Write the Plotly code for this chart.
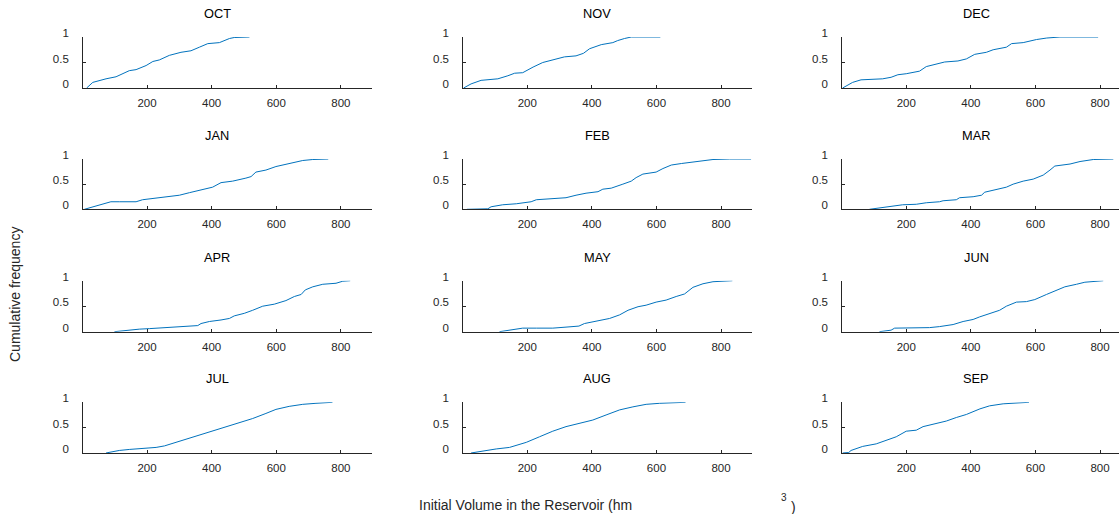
import plotly.graph_objects as go

W, H = 1119, 514

months = ["OCT", "NOV", "DEC", "JAN", "FEB", "MAR", "APR", "MAY", "JUN", "JUL", "AUG", "SEP"]

oct_x = [13, 32, 73, 104, 145, 166, 197, 218, 238, 269, 305, 336, 362, 388, 424, 455, 470, 517]
oct_y = [0, 0.11, 0.18, 0.22, 0.34, 0.36, 0.44, 0.52, 0.55, 0.64, 0.70, 0.73, 0.80, 0.87, 0.89, 0.97, 0.99, 1.0]

nov_x = [3, 26, 57, 88, 109, 140, 161, 186, 202, 218, 248, 279, 315, 351, 374, 393, 429, 465, 480, 501, 522, 612]
nov_y = [0, 0.08, 0.15, 0.16, 0.18, 0.24, 0.29, 0.30, 0.36, 0.41, 0.50, 0.55, 0.61, 0.63, 0.68, 0.77, 0.85, 0.89, 0.93, 0.97, 1.0, 1.0]

dec_x = [3, 19, 34, 60, 96, 127, 153, 174, 200, 220, 241, 262, 293, 319, 360, 386, 412, 448, 469, 510, 526, 562, 603, 635, 676, 794]
dec_y = [0, 0.06, 0.11, 0.16, 0.17, 0.18, 0.21, 0.26, 0.28, 0.31, 0.33, 0.42, 0.47, 0.51, 0.53, 0.57, 0.66, 0.70, 0.75, 0.80, 0.87, 0.89, 0.95, 0.98, 1.0, 1.0]

jan_x = [6, 21, 52, 73, 88, 114, 166, 186, 228, 259, 300, 331, 362, 403, 429, 465, 506, 522, 537, 568, 599, 630, 651, 682, 713, 761]
jan_y = [0, 0.03, 0.08, 0.12, 0.15, 0.15, 0.15, 0.19, 0.22, 0.25, 0.28, 0.33, 0.38, 0.44, 0.53, 0.56, 0.62, 0.65, 0.74, 0.78, 0.85, 0.89, 0.93, 0.97, 0.99, 1.0]

feb_x = [13, 78, 88, 124, 166, 186, 212, 228, 279, 320, 351, 382, 419, 434, 460, 475, 496, 522, 537, 558, 599, 620, 646, 677, 708, 744, 775, 826, 893]
feb_y = [0, 0.01, 0.05, 0.09, 0.11, 0.13, 0.15, 0.19, 0.21, 0.23, 0.28, 0.32, 0.35, 0.40, 0.42, 0.46, 0.50, 0.56, 0.63, 0.70, 0.74, 0.81, 0.88, 0.91, 0.94, 0.96, 0.99, 1.0, 1.0]

mar_x = [86, 127, 158, 189, 231, 262, 303, 314, 355, 365, 407, 433, 443, 479, 510, 531, 562, 593, 624, 645, 660, 707, 738, 779, 810, 841]
mar_y = [0, 0.04, 0.06, 0.09, 0.10, 0.13, 0.15, 0.17, 0.19, 0.23, 0.25, 0.28, 0.34, 0.39, 0.44, 0.50, 0.56, 0.60, 0.68, 0.78, 0.86, 0.90, 0.95, 0.99, 1.0, 1.0]

apr_x = [99, 135, 176, 207, 259, 300, 357, 367, 393, 429, 455, 470, 501, 527, 558, 594, 630, 656, 677, 690, 713, 744, 785, 806, 829]
apr_y = [0, 0.03, 0.05, 0.06, 0.08, 0.10, 0.12, 0.16, 0.20, 0.23, 0.26, 0.31, 0.36, 0.42, 0.50, 0.54, 0.61, 0.69, 0.73, 0.82, 0.88, 0.93, 0.95, 0.99, 1.0]

may_x = [114, 150, 186, 228, 279, 320, 360, 377, 413, 455, 486, 512, 543, 568, 599, 630, 661, 687, 713, 744, 775, 806, 835]
may_y = [0, 0.04, 0.07, 0.07, 0.07, 0.09, 0.11, 0.16, 0.20, 0.26, 0.33, 0.42, 0.49, 0.52, 0.58, 0.62, 0.69, 0.74, 0.87, 0.94, 0.98, 0.99, 1.0]

jun_x = [117, 153, 164, 210, 272, 303, 345, 376, 407, 427, 458, 489, 510, 541, 572, 598, 634, 665, 691, 727, 753, 810]
jun_y = [0, 0.03, 0.07, 0.07, 0.08, 0.10, 0.14, 0.20, 0.24, 0.29, 0.35, 0.42, 0.50, 0.58, 0.59, 0.63, 0.73, 0.81, 0.88, 0.93, 0.97, 1.0]

jul_x = [73, 114, 145, 197, 228, 254, 290, 331, 362, 403, 444, 496, 527, 568, 599, 640, 682, 723, 774]
jul_y = [0, 0.05, 0.07, 0.09, 0.11, 0.14, 0.21, 0.29, 0.36, 0.44, 0.52, 0.61, 0.68, 0.78, 0.86, 0.92, 0.96, 0.98, 1.0]

aug_x = [26, 62, 104, 145, 197, 238, 279, 320, 362, 403, 444, 486, 527, 568, 610, 651, 690]
aug_y = [0, 0.04, 0.08, 0.11, 0.21, 0.32, 0.43, 0.52, 0.59, 0.65, 0.75, 0.85, 0.91, 0.96, 0.98, 0.99, 1.0]

sep_x = [3, 22, 29, 65, 107, 138, 169, 200, 231, 252, 293, 324, 355, 386, 428, 458, 500, 541, 580]
sep_y = [0, 0.01, 0.05, 0.13, 0.18, 0.25, 0.32, 0.43, 0.45, 0.52, 0.58, 0.63, 0.70, 0.76, 0.87, 0.93, 0.97, 0.99, 1.0]

series_x = [oct_x, nov_x, dec_x, jan_x, feb_x, mar_x, apr_x, may_x, jun_x, jul_x, aug_x, sep_x]
series_y = [oct_y, nov_y, dec_y, jan_y, feb_y, mar_y, apr_y, may_y, jun_y, jul_y, aug_y, sep_y]

x_ticks = [200, 400, 600, 800]
y_ticks = [0, 0.5, 1]
y_ticktext = ["0", "0.5", "1"]

# layout geometry (pixels)
col_left = [83.1, 463.3, 842.3]
col_right = [371.7, 751.7, 1119.0]
px_per_unit = 0.323
x_start = 2
row_top = [37, 159, 280.7, 402.3]
row_bot = [88, 209.3, 331.7, 453]

AX = "#262626"
BLUE = "#0072BD"
FONT = "Liberation Sans, Arial, Helvetica, sans-serif"

fig = go.Figure()
layout = dict(
    width=W, height=H,
    margin=dict(l=0, r=0, t=0, b=0, pad=0, autoexpand=False),
    paper_bgcolor="white", plot_bgcolor="white",
    showlegend=False,
    font=dict(family=FONT, size=11.5, color=AX),
)
annotations = []
for i, m in enumerate(months):
    r, c = divmod(i, 3)
    n = i + 1
    xa = "xaxis" if n == 1 else f"xaxis{n}"
    ya = "yaxis" if n == 1 else f"yaxis{n}"
    xr = "x" if n == 1 else f"x{n}"
    yr = "y" if n == 1 else f"y{n}"
    fig.add_trace(go.Scatter(x=series_x[i], y=series_y[i], mode="lines",
                             line=dict(color=BLUE, width=1), xaxis=xr, yaxis=yr,
                             hoverinfo="skip"))
    x0, x1 = col_left[c] / W, col_right[c] / W
    x_end = x_start + (col_right[c] - col_left[c]) / px_per_unit
    layout[xa] = dict(domain=[x0, min(x1, 1.0)], range=[x_start, x_end], anchor=yr,
                      showgrid=False, zeroline=False, showline=True, linecolor=AX, linewidth=1,
                      ticks="inside", ticklen=3, tickcolor=AX, tickvals=x_ticks, automargin=False,
                      ticklabelstandoff=4, tickfont=dict(size=11.5, color=AX, family=FONT))
    layout[ya] = dict(domain=[1 - row_bot[r] / H, 1 - row_top[r] / H], range=[0, 1], anchor=xr,
                      showgrid=False, zeroline=False, showline=True, linecolor=AX, linewidth=1,
                      ticks="inside", ticklen=3, tickcolor=AX, tickvals=y_ticks, ticktext=y_ticktext,
                      ticklabelstandoff=11, ticklabelshift=-4, automargin=False,
                      tickfont=dict(size=11.5, color=AX, family=FONT))
    annotations.append(dict(text=m, x=(col_left[c] + 134) / W, y=1 - (row_top[r] - 23.5) / H,
                            xref="paper", yref="paper", showarrow=False, xanchor="center",
                            yanchor="middle", font=dict(size=12.8, color="#000000", family=FONT)))

annotations.append(dict(text="Cumulative frequency", x=15 / W, y=1 - 295 / H, xref="paper", yref="paper",
                        showarrow=False, textangle=-90, xanchor="center", yanchor="middle",
                        font=dict(size=14, color="#262626", family=FONT)))
annotations.append(dict(text="Initial Volume in the Reservoir (hm", x=525 / W, y=1 - 505 / H,
                        xref="paper", yref="paper", showarrow=False, xanchor="center", yanchor="middle",
                        font=dict(size=14, color="#262626", family=FONT)))
annotations.append(dict(text="3", x=783.5 / W, y=1 - 497 / H, xref="paper", yref="paper",
                        showarrow=False, xanchor="center", yanchor="middle",
                        font=dict(size=10, color="#262626", family=FONT)))
annotations.append(dict(text=")", x=793 / W, y=1 - 507 / H, xref="paper", yref="paper",
                        showarrow=False, xanchor="center", yanchor="middle",
                        font=dict(size=14, color="#262626", family=FONT)))
layout["annotations"] = annotations
fig.update_layout(**layout)
fig.write_html("out.html", config={"displayModeBar": False},
               post_script="document.body.style.margin='0';document.body.style.overflow='hidden';")
